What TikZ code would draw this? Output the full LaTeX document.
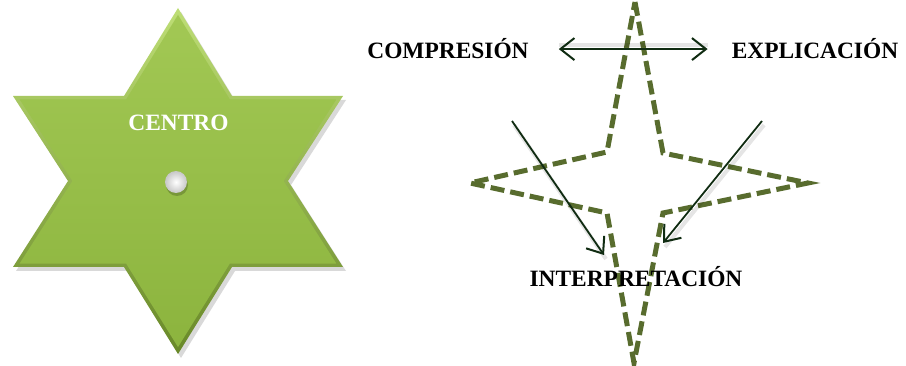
\documentclass[tikz,border=0pt]{standalone}
\usepackage{fontspec}
\setmainfont{Liberation Serif}
\usetikzlibrary{arrows.meta,shadings}

\definecolor{hojaclara}{RGB}{190,222,118}
\definecolor{hojaoscura}{RGB}{104,136,40}
\definecolor{hojaarriba}{RGB}{162,200,84}
\definecolor{hojaabajo}{RGB}{140,180,62}
\definecolor{oliva}{RGB}{88,108,46}
\definecolor{pino}{RGB}{16,44,18}

\newcommand{\estrella}{(178,8) -- (232,96) -- (343,96) -- (288,181) -- (343,267) -- (232,267)
    -- (178,354) -- (124,267) -- (13,267) -- (68,181) -- (13,96) -- (124,96) -- cycle}

\tikzset{
    rotulo/.style={font=\fontsize{23.4}{28}\selectfont\bfseries, inner sep=0pt, anchor=base},
    punta/.style={Straight Barb[length=14pt,width=22pt,line width=2pt]},
    flecha/.style={draw=pino, line width=1.8pt, -{Straight Barb[length=14pt,width=22pt,line width=2pt]}},
    sombra/.style={draw=black, opacity=0.1, line width=4pt},
    punteado/.style={draw=oliva, line width=5pt, dash pattern=on 14pt off 6pt, line join=miter},
}

\begin{document}
\begin{tikzpicture}[x=1pt,y=-1pt]

            \useasboundingbox (0,0) rectangle (906,366);

            % estrella del centro
            \fill[black,opacity=0.15] [shift={(3,4)}] \estrella;
            \shade[top color=hojaclara, bottom color=hojaoscura] \estrella;
            \begin{scope}[scale around={0.96:(178,181)}]
                \shade[top color=hojaarriba, bottom color=hojaabajo] \estrella;
            \end{scope}

            \node[rotulo, text=white] (centro) at (178.5,131) {CENTRO};
            \fill[black,opacity=0.2] (177,185) circle (11);
            \shade[inner color=white, outer color=black!22] (176,182) coordinate (punto) circle (11);

            % estrella punteada
            \draw[punteado] (635,2) -- (663,153) -- (808,183) -- (663,213) -- (634,363)
                -- (607,213) -- (470,183) -- (607,152) -- cycle;

            \node[rotulo] (compresion)  at (448,59)  {COMPRESIÓN};
            \node[rotulo] (explicacion) at (815,59)  {EXPLICACIÓN};
            \node[rotulo] (interpretacion) at (636,287) {INTERPRETACIÓN};

            \coordinate (izq) at (512,121);
            \coordinate (der) at (762,121);
            \coordinate (izqfin) at (604,255);
            \coordinate (derfin) at (663,243);

            % flechas
            \draw[sombra, shorten <=30pt, shorten >=24pt] ([yshift=4pt]compresion.east) -- ([yshift=4pt]explicacion.west);
            \draw[sombra] ([shift={(2,4)}]izq) -- ([shift={(2,4)}]izqfin);
            \draw[sombra] ([shift={(2,4)}]der) -- ([shift={(2,4)}]derfin);

            \draw[flecha, {Straight Barb[length=14pt,width=22pt,line width=2pt]}-{Straight Barb[length=14pt,width=22pt,line width=2pt]},
                shorten <=30pt, shorten >=24pt] (compresion.east) -- (explicacion.west);
            \draw[flecha] (izq) -- (izqfin);
            \draw[flecha] (der) -- (derfin);

\end{tikzpicture}
\end{document}
